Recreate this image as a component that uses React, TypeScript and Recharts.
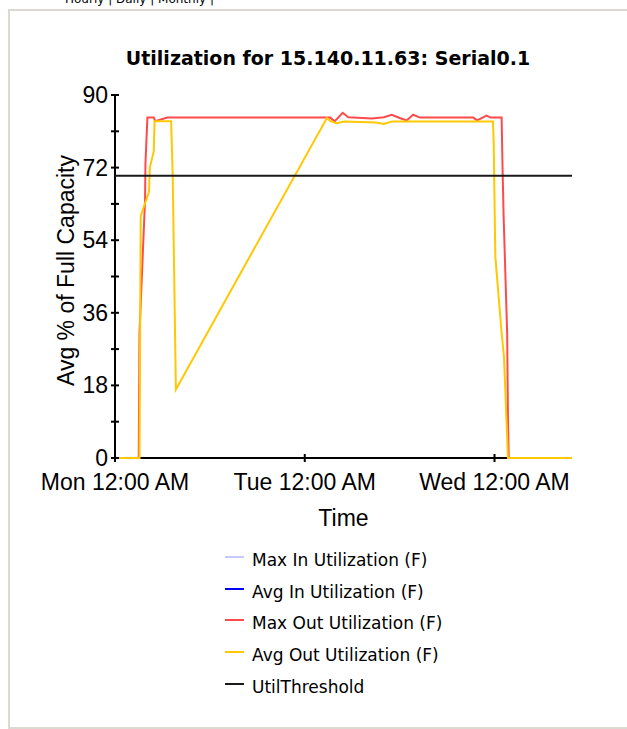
import React from "react";
import { LineChart, Line, XAxis, YAxis, Legend } from "recharts";

// hours since Mon 12:00 AM
const maxOutHours = [0, 3.0, 3.1, 3.8, 3.85, 4.1, 4.9, 5.1, 6.6, 27.2, 27.8, 28.8, 29.5, 32.5, 34, 35, 36, 36.9, 37.7, 38.6, 45.3, 45.8, 47, 47.5, 48.9, 49.0, 49.15, 49.6, 49.7, 49.8, 57.8];
const maxOutValues = [0, 0, 31, 64, 73, 84.4, 84.4, 83.5, 84.4, 84.4, 83.5, 85.6, 84.5, 84.2, 84.5, 85.1, 84.3, 83.7, 85.1, 84.4, 84.4, 83.7, 84.9, 84.4, 84.4, 73.5, 60, 31, 10, 0, 0];

const avgOutHours = [0, 3.1, 3.25, 4.3, 4.4, 4.9, 5.0, 7.1, 7.3, 7.7, 26.8, 27.2, 28.0, 29, 33, 34, 35, 47.8, 47.9, 48.1, 48.9, 49.2, 49.5, 49.7, 57.8];
const avgOutValues = [0, 0, 60, 66, 72, 76, 83.5, 83.5, 70, 17, 84.3, 83.6, 83, 83.4, 83.2, 82.8, 83.4, 83.4, 78, 50, 31, 25, 10, 0, 0];

const thresholdHours = [0, 57.8];
const thresholdValues = [70, 70];

const yTicks = [0, 9, 18, 27, 36, 45, 54, 63, 72, 81, 90];
const xTicks = [0, 24, 48];
const xTickLabels = ["Mon 12:00 AM", "Tue 12:00 AM", "Wed 12:00 AM"];
const legendOrder = ["Max In Utilization (F)", "Avg In Utilization (F)", "Max Out Utilization (F)", "Avg Out Utilization (F)", "UtilThreshold"];

const toRows = (hours: number[], values: number[]) =>
  hours.map((h, i) => ({ h: h, v: values[i] }));

const maxOutData = toRows(maxOutHours, maxOutValues);
const avgOutData = toRows(avgOutHours, avgOutValues);
const thresholdData = toRows(thresholdHours, thresholdValues);

const tickFont = "'Liberation Sans', Arial, sans-serif";

const YTick = (props: any) => {
  const { x, y, payload } = props;
  return (
    <g>
      <line x1={x - 4} x2={x + 4} y1={y} y2={y} stroke="#000" strokeWidth={2} />
      {payload.value % 18 === 0 && (
        <text x={x - 7} y={y + 8} textAnchor="end" fontSize={23} fontFamily={tickFont} fill="#000">
          {payload.value}
        </text>
      )}
    </g>
  );
};

const XTick = (props: any) => {
  const { x, y, payload, index } = props;
  return (
    <g>
      <line x1={x} x2={x} y1={y - 4} y2={y + 4} stroke="#000" strokeWidth={2} />
      <text x={x} y={y + 32} textAnchor="middle" fontSize={23} fontFamily={tickFont} fill="#000">
        {xTickLabels[index]}
      </text>
    </g>
  );
};

const YLabel = (props: any) => {
  const vb = props.viewBox;
  const cx = vb.x + 56;
  const cy = vb.y + vb.height / 2 - 6;
  return (
    <text x={cx} y={cy} transform={`rotate(-90 ${cx} ${cy})`} textAnchor="middle" dominantBaseline="central"
      fontSize={23} fontFamily={tickFont} fill="#000">
      Avg % of Full Capacity
    </text>
  );
};

const XLabel = (props: any) => {
  const vb = props.viewBox;
  return (
    <text x={vb.x + vb.width / 2} y={vb.y + 68} textAnchor="middle" fontSize={23} fontFamily={tickFont} fill="#000">
      Time
    </text>
  );
};

const LegendBox = (props: any) => {
  const payload = (props.payload || []).slice().sort(
    (a: any, b: any) => legendOrder.indexOf(a.value) - legendOrder.indexOf(b.value)
  );
  return (
    <div style={{ fontFamily: "'DejaVu Sans', Verdana, sans-serif", fontSize: 17, color: "#000" }}>
      {payload.map((p: any) => (
        <div key={p.value} style={{ height: 31.7, display: "flex", alignItems: "center" }}>
          <span style={{ display: "inline-block", width: 19, height: 2, background: p.color, marginRight: 8, position: "relative", top: -3 }} />
          <span>{p.value}</span>
        </div>
      ))}
    </div>
  );
};

export default function App() {
  return (
    <div style={{ position: "absolute", left: 8, top: 9, width: 619, height: 716, borderLeft: "2px solid #dcd9d2", borderTop: "2px solid #dcd9d2", borderBottom: "2px solid #dcd9d2", background: "#fff" }}>
      <div style={{ position: "absolute", left: 55, top: -19, fontFamily: "'DejaVu Sans', Verdana, sans-serif", fontSize: 12, whiteSpace: "nowrap", color: "#000" }}>
        Hourly | Daily | Monthly |
      </div>
      <div style={{ position: "absolute", left: 0, top: 36, width: 636, textAlign: "center", fontFamily: "'DejaVu Sans', Verdana, sans-serif", fontWeight: "bold", fontSize: 19, color: "#000" }}>
        Utilization for 15.140.11.63: Serial0.1
      </div>
      <LineChart width={617} height={716} margin={{ top: 84, right: 55, left: 0, bottom: 189 }}>
        <XAxis dataKey="h" type="number" domain={[0, 57.8]} ticks={xTicks} interval={0} allowDataOverflow
          height={80} tickSize={0} tickMargin={0} tickLine={false} tick={<XTick />}
          axisLine={{ stroke: "#000", strokeWidth: 2 }} label={<XLabel />} />
        <YAxis type="number" domain={[0, 90]} ticks={yTicks} interval={0} width={105}
          tickSize={0} tickMargin={0} tickLine={false} tick={<YTick />}
          axisLine={{ stroke: "#000", strokeWidth: 2 }} label={<YLabel />} />
        <Legend layout="horizontal" verticalAlign="middle" align="center" content={<LegendBox />}
          wrapperStyle={{ left: 215, top: 533, width: 300, height: 170 }} />
        <Line data={[]} dataKey="v" name="Max In Utilization (F)" stroke="#c8c8ff" strokeWidth={2} dot={false} isAnimationActive={false} />
        <Line data={[]} dataKey="v" name="Avg In Utilization (F)" stroke="#0000ff" strokeWidth={2} dot={false} isAnimationActive={false} />
        <Line data={maxOutData} dataKey="v" name="Max Out Utilization (F)" stroke="#ff4a4a" strokeWidth={2} dot={false} isAnimationActive={false} type="linear" zIndex={700} />
        <Line data={avgOutData} dataKey="v" name="Avg Out Utilization (F)" stroke="#ffc800" strokeWidth={2} dot={false} isAnimationActive={false} type="linear" zIndex={710} />
        <Line data={thresholdData} dataKey="v" name="UtilThreshold" stroke="#1a1a1a" strokeWidth={2} dot={false} isAnimationActive={false} type="linear" zIndex={720} />
      </LineChart>
    </div>
  );
}
